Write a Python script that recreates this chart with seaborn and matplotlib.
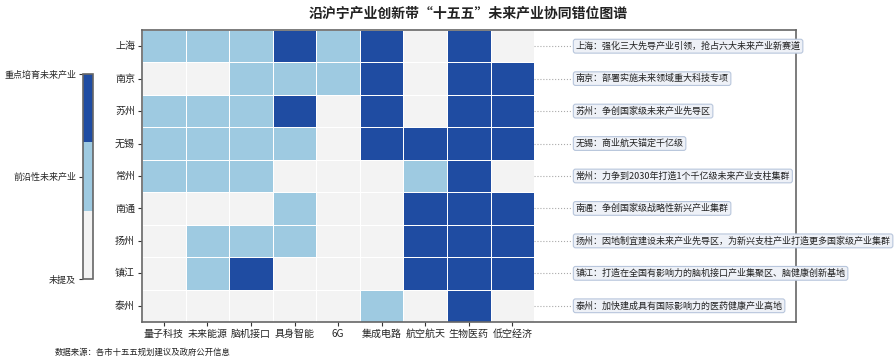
import numpy as np
import pandas as pd
import seaborn as sns
import matplotlib
matplotlib.use("Agg")
import matplotlib.pyplot as plt
from matplotlib.colors import ListedColormap

sns.set_theme(style="white")
plt.rcParams['font.family'] = ['Noto Sans CJK SC', 'DejaVu Sans']
plt.rcParams['axes.unicode_minus'] = False

cities = ["上海", "南京", "苏州", "无锡", "常州", "南通", "扬州", "镇江", "泰州"]
industries = ["量子科技", "未来能源", "脑机接口", "具身智能", "6G", "集成电路", "航空航天", "生物医药", "低空经济"]

# 0 = 未提及, 1 = 前沿性未来产业, 2 = 重点培育未来产业
shanghai = [1, 1, 1, 2, 1, 2, 0, 2, 0]
nanjing = [0, 0, 1, 1, 1, 2, 0, 2, 2]
suzhou = [1, 1, 1, 2, 0, 2, 0, 2, 2]
wuxi = [1, 1, 1, 1, 0, 2, 2, 2, 2]
changzhou = [1, 1, 1, 0, 0, 0, 1, 2, 0]
nantong = [0, 0, 0, 1, 0, 0, 2, 2, 2]
yangzhou = [0, 1, 1, 1, 0, 0, 2, 2, 2]
zhenjiang = [0, 1, 2, 0, 0, 0, 2, 2, 2]
taizhou = [0, 0, 0, 0, 0, 1, 0, 2, 0]

level_labels = ["未提及", "前沿性未来产业", "重点培育未来产业"]
notes = [
    "上海：强化三大先导产业引领，抢占六大未来产业新赛道",
    "南京：部署实施未来领域重大科技专项",
    "苏州：争创国家级未来产业先导区",
    "无锡：商业航天锚定千亿级",
    "常州：力争到2030年打造1个千亿级未来产业支柱集群",
    "南通：争创国家级战略性新兴产业集群",
    "扬州：因地制宜建设未来产业先导区，为新兴支柱产业打造更多国家级产业集群",
    "镇江：打造在全国有影响力的脑机接口产业集聚区、脑健康创新基地",
    "泰州：加快建成具有国际影响力的医药健康产业高地",
]
footnote = "数据来源：各市十五五规划建议及政府公开信息"
title = "沿沪宁产业创新带“十五五”未来产业协同错位图谱"

data = pd.DataFrame([shanghai, nanjing, suzhou, wuxi, changzhou, nantong,
                     yangzhou, zhenjiang, taizhou], index=cities, columns=industries)

cmap = ListedColormap(["#f3f3f3", "#9ecae1", "#1f4ca2"])

fig = plt.figure(figsize=(8.96, 3.61), dpi=100)
ax = fig.add_axes([0.1585, 0.108, 0.7295, 0.809])
cax = fig.add_axes([0.0926, 0.227, 0.0112, 0.568])

sns.heatmap(data, ax=ax, cmap=cmap, vmin=0, vmax=2, linewidths=0.7, linecolor="white",
            cbar_ax=cax, cbar_kws={"ticks": [0, 1, 2]})

ax.set_xlim(0, 15)
ax.set_ylim(9, 0)
for s in ax.spines.values():
    s.set_visible(True)
    s.set_color("#666666")
    s.set_linewidth(1.2)

ax.set_xticks(np.arange(len(industries)) + 0.5)
ax.set_xticklabels(industries, fontsize=7.2, rotation=0)
ax.set_yticks(np.arange(len(cities)) + 0.5)
ax.set_yticklabels(cities, fontsize=7.2, rotation=0)
ax.tick_params(axis="both", length=3, width=0.8, color="#333333", bottom=True, left=True, pad=2)
ax.set_xlabel("")
ax.set_ylabel("")

for i, note in enumerate(notes):
    y = i + 0.5
    ax.plot([9.0, 9.85], [y, y], linestyle=":", color="#aaaaaa", linewidth=0.8, clip_on=False)
    ax.text(9.95, y, note, fontsize=6.5, va="center", ha="left", color="#222222",
            bbox=dict(boxstyle="round,pad=0.25", fc="#eef1f7", ec="#b8c6dc", lw=0.8),
            clip_on=False)

cbar = ax.collections[0].colorbar
cbar.set_ticks([0, 1, 2])
cbar.set_ticklabels(level_labels)
cbar.ax.yaxis.set_ticks_position("left")
cbar.ax.tick_params(labelsize=6.5, length=3, width=0.8, color="#333333", pad=2)
cbar.outline.set_edgecolor("#666666")
cbar.outline.set_linewidth(1.2)

fig.text(0.523, 0.963, title, fontsize=10, fontweight="bold", ha="center", va="center", color="#222222")
fig.text(0.061, 0.025, footnote, fontsize=6, ha="left", va="center", color="#222222")

fig.savefig("out.png", dpi=100)
